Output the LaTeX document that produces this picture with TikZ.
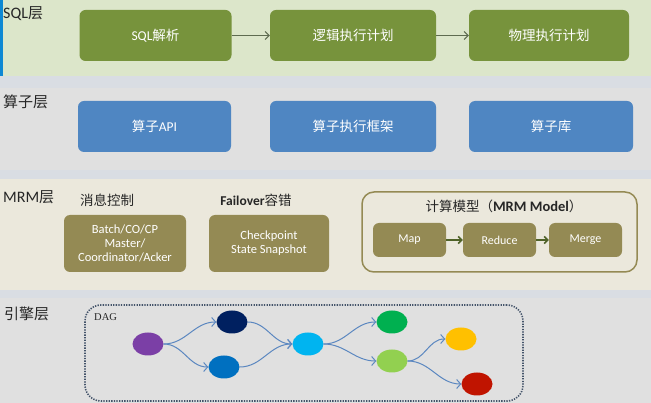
\documentclass[tikz,border=0pt]{standalone}
\usepackage{fontspec}
\setmainfont{Noto Sans CJK SC}
\newfontfamily\lat{Carlito}
\newfontfamily\serifdag{Liberation Serif}
\usetikzlibrary{arrows.meta,shapes.geometric}
\definecolor{sqlbg}{HTML}{DCE6CA}
\definecolor{greybg}{HTML}{E0E0E0}
\definecolor{mrmbg}{HTML}{EBE8DC}
\definecolor{stripe}{HTML}{D9DDE3}
\definecolor{sqlbox}{HTML}{77933C}
\definecolor{opbox}{HTML}{4F86C2}
\definecolor{mrmbox}{HTML}{948A54}
\definecolor{mrmline}{HTML}{948A54}
\definecolor{sqlarrow}{HTML}{5E6B50}
\definecolor{mrmarrow}{HTML}{4F6228}
\definecolor{dagline}{HTML}{5B87C0}
\definecolor{dotline}{HTML}{44546A}
\definecolor{labeltxt}{HTML}{262626}
\tikzset{
  boxbase/.style={rounded corners=6pt, text=white, align=center, inner sep=0pt},
  sqlb/.style={boxbase, fill=sqlbox, minimum height=51pt, font=\fontsize{13.5}{16}\selectfont},
  opb/.style={boxbase, fill=opbox, minimum height=51pt, font=\fontsize{13.5}{16}\selectfont},
  mrmb/.style={boxbase, fill=mrmbox, minimum height=57pt, font=\lat\fontsize{12.5}{14}\selectfont},
  mmb/.style={boxbase, fill=mrmbox, minimum width=73pt, minimum height=34pt, font=\lat\fontsize{12}{13}\selectfont},
  layerlbl/.style={anchor=west, text=labeltxt, font=\fontsize{15}{17}\selectfont, inner sep=0pt},
  sublbl/.style={text=labeltxt, font=\fontsize{13.5}{16}\selectfont, inner sep=0pt},
  sqlarr/.style={draw=sqlarrow, line width=1pt, -{Straight Barb[length=4pt,width=8pt]}},
  mrmarr/.style={draw=mrmarrow, line width=1.6pt, -{Straight Barb[length=3.5pt,width=7pt]}},
  dagarr/.style={draw=dagline, line width=1pt, -{Straight Barb[length=4pt,width=9pt]}},
  dagn/.style={ellipse, minimum width=31pt, minimum height=23pt, inner sep=0pt, draw=none},
}
\begin{document}
\begin{tikzpicture}[x=1pt,y=-1pt]
\useasboundingbox (0,0) rectangle (651,403);
% bands
\fill[sqlbg] (0,0) rectangle (651,76);
\fill[stripe] (0,76) rectangle (651,88);
\fill[greybg] (0,88) rectangle (651,170);
\fill[stripe] (0,170) rectangle (651,179);
\fill[mrmbg] (0,179) rectangle (651,290);
\fill[stripe] (0,290) rectangle (651,298);
\fill[greybg] (0,298) rectangle (651,403);
\fill[cyan!70!blue] (0,0) rectangle (2.5,76);

% SQL layer
\node[layerlbl] (lsql) at (3,14) {{\lat\fontsize{16}{18}\selectfont SQL}层};
\node[sqlb, minimum width=152pt] (s1) at (155.5,35.5) {{\lat SQL}解析};
\node[sqlb, minimum width=166pt] (s2) at (353,35.5) {逻辑执行计划};
\node[sqlb, minimum width=160pt] (s3) at (549,35.5) {物理执行计划};
\draw[sqlarr] (s1) -- (s2);
\draw[sqlarr] (s2) -- (s3);

% operator layer
\node[layerlbl] (lop) at (3,102) {算子层};
\node[opb, minimum width=153pt] (o1) at (154.5,126.5) {算子{\lat API}};
\node[opb, minimum width=166pt] (o2) at (353,126.5) {算子执行框架};
\node[opb, minimum width=164pt] (o3) at (551,126.5) {算子库};

% MRM layer
\node[layerlbl] (lmrm) at (3,197) {{\lat\fontsize{16}{18}\selectfont MRM}层};
\node[sublbl] (msg) at (107,200) {消息控制};
\node[sublbl] (fo) at (256,200) {{\lat\bfseries Failover}容错};
\node[mrmb, minimum width=122pt] (m1) at (125,243.5) {Batch/CO/CP\\Master/\\Coordinator/Acker};
\node[mrmb, minimum width=120pt] (m2) at (269,243.5) {Checkpoint\\State Snapshot};
\node[draw=mrmline, line width=1.5pt, rounded corners=12pt, minimum width=275pt, minimum height=80pt, inner sep=0pt] (model) at (499.5,232) {};
\node[sublbl] (mt) at (504,206) {计算模型（{\lat\bfseries\fontsize{14.5}{16}\selectfont MRM Model}）};
\node[mmb] (map) at (409.5,240) {Map};
\node[mmb] (red) at (499.5,240) {Reduce};
\node[mmb] (mer) at (585.5,240) {Merge};
\draw[mrmarr] (map) -- (red);
\draw[mrmarr] (red) -- (mer);

% engine layer
\node[layerlbl] (leng) at (4,314) {引擎层};
\node[draw=dotline, line width=1.6pt, dash pattern=on 1.3pt off 1.3pt, rounded corners=16pt, minimum width=438pt, minimum height=96pt, inner sep=0pt] (dagbox) at (304,353) {};
\node[anchor=west, font=\serifdag\fontsize{10.5}{12}\selectfont, text=labeltxt, inner sep=0pt] (dagl) at (94,317) {DAG};
\node[dagn, fill={rgb,255:red,123;green,63;blue,166}] (a) at (148,344) {};
\node[dagn, fill={rgb,255:red,0;green,32;blue,96}] (b) at (232,322) {};
\node[dagn, fill={rgb,255:red,0;green,112;blue,192}] (c) at (224,367) {};
\node[dagn, fill={rgb,255:red,0;green,180;blue,240}] (d) at (308,344) {};
\node[dagn, fill={rgb,255:red,0;green,176;blue,80}] (e) at (392,322) {};
\node[dagn, fill={rgb,255:red,146;green,208;blue,80}] (f) at (392,361) {};
\node[dagn, fill={rgb,255:red,255;green,192;blue,0}] (g) at (461,339) {};
\node[dagn, fill={rgb,255:red,192;green,20;blue,0}] (h) at (477,384) {};
\draw[dagarr] (a.east) to[out=0,in=180] (b.west);
\draw[dagarr] (a.east) to[out=0,in=180] (c.west);
\draw[dagarr] (b.east) to[out=0,in=180] (d.west);
\draw[dagarr] (c.east) to[out=0,in=180] (d.west);
\draw[dagarr] (d.east) to[out=0,in=180] (e.west);
\draw[dagarr] (d.east) to[out=0,in=180] (f.west);
\draw[dagarr] (f.east) to[out=0,in=180] (g.west);
\draw[dagarr] (f.east) to[out=0,in=180] (h.west);
\end{tikzpicture}
\end{document}
